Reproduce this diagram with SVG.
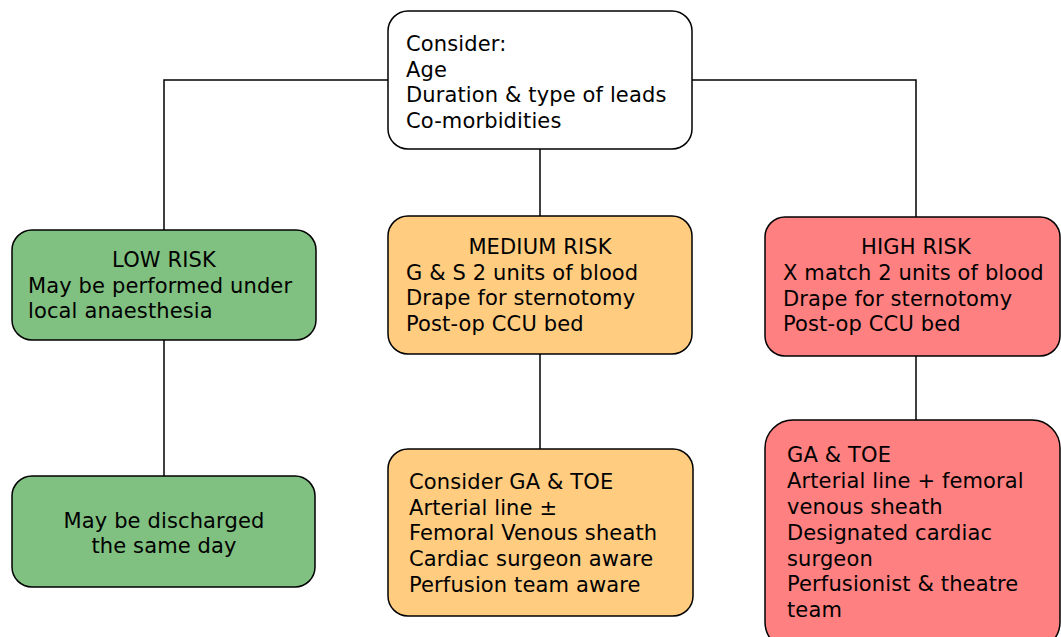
<svg xmlns="http://www.w3.org/2000/svg" width="1061" height="637" viewBox="0 0 1061 637">
<style>
.box{stroke:#000;stroke-width:1.5}
.w{fill:#fff}.g{fill:#80C080}.o{fill:#FFCC80}.r{fill:#FF8080}
text{font-family:"DejaVu Sans",Verdana,sans-serif;font-size:21px;letter-spacing:0.13px;fill:#000}
.c{text-anchor:middle}
.ln{stroke:#000;stroke-width:1.5;fill:none}
</style>
<g id="connectors">
<path class="ln" d="M388 80H164V230"/>
<path class="ln" d="M692 80H916V217"/>
<path class="ln" d="M540 149V216"/>
<path class="ln" d="M164 340V476"/>
<path class="ln" d="M540 354V449"/>
<path class="ln" d="M916 356V420"/>
</g>
<g id="consider">
<rect class="box w" x="388" y="11" width="304" height="138" rx="20"/>
<text x="406" y="51">Consider:</text>
<text x="406" y="77">Age</text>
<text x="406" y="102">Duration &amp; type of leads</text>
<text x="406" y="128">Co-morbidities</text>
</g>
<g id="low">
<rect class="box g" x="12" y="230" width="304" height="110" rx="20"/>
<text class="c" x="164" y="267">LOW RISK</text>
<text x="28" y="293">May be performed under</text>
<text x="28" y="318">local anaesthesia</text>
</g>
<g id="medium">
<rect class="box o" x="388" y="216" width="304" height="138" rx="20"/>
<text class="c" x="540" y="254">MEDIUM RISK</text>
<text x="406" y="280">G &amp; S 2 units of blood</text>
<text x="406" y="305">Drape for sternotomy</text>
<text x="406" y="331">Post-op CCU bed</text>
</g>
<g id="high">
<rect class="box r" x="765" y="217" width="295" height="139" rx="20"/>
<text class="c" x="916" y="254">HIGH RISK</text>
<text x="783" y="280">X match 2 units of blood</text>
<text x="783" y="306">Drape for sternotomy</text>
<text x="783" y="331">Post-op CCU bed</text>
</g>
<g id="low2">
<rect class="box g" x="12" y="476" width="303" height="111" rx="20"/>
<text class="c" x="164" y="528">May be discharged</text>
<text class="c" x="164" y="553">the same day</text>
</g>
<g id="medium2">
<rect class="box o" x="388" y="449" width="305" height="167" rx="20"/>
<text x="409" y="489">Consider GA &amp; TOE</text>
<text x="409" y="515">Arterial line ±</text>
<text x="409" y="540">Femoral Venous sheath</text>
<text x="409" y="566">Cardiac surgeon aware</text>
<text x="409" y="592">Perfusion team aware</text>
</g>
<g id="high2">
<rect class="box r" x="765" y="420" width="295" height="230" rx="28"/>
<text x="787" y="462">GA &amp; TOE</text>
<text x="787" y="488">Arterial line + femoral</text>
<text x="787" y="514">venous sheath</text>
<text x="787" y="540">Designated cardiac</text>
<text x="787" y="566">surgeon</text>
<text x="787" y="591">Perfusionist &amp; theatre</text>
<text x="787" y="617">team</text>
</g>
</svg>
